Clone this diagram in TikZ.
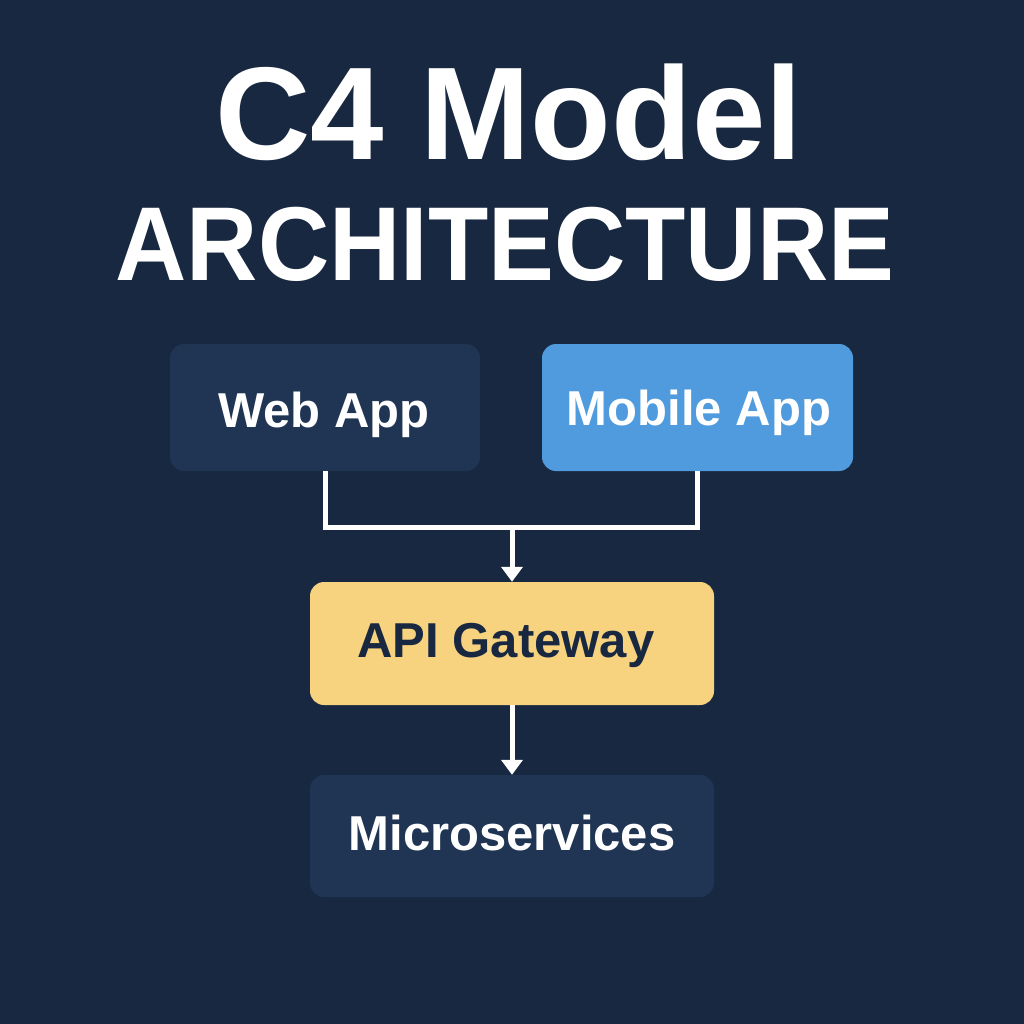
\documentclass[tikz,border=0pt]{standalone}
\usepackage{fontspec}
\setmainfont{Liberation Sans}
\usetikzlibrary{arrows.meta}
\definecolor{bg}{HTML}{182840}
\definecolor{boxdark}{HTML}{1F3553}
\definecolor{boxblue}{HTML}{4F9BDE}
\definecolor{boxyellow}{HTML}{F7D27F}
\tikzset{
  card/.style={rounded corners=14pt, inner sep=0pt},
  darkcard/.style={card, fill=boxdark},
  lbl/.style={anchor=base, inner sep=0pt, font=\fontsize{49}{49}\selectfont\bfseries},
  wire/.style={draw=white, line width=5pt},
  arrowwire/.style={wire, -{Triangle[width=21pt,length=15pt]}},
}
\begin{document}
\begin{tikzpicture}[x=1pt,y=-1pt]
\fill[bg] (0,0) rectangle (1024,1024);
\useasboundingbox (0,0) rectangle (1024,1024);
\node[anchor=base, inner sep=0pt, text=white, font=\fontsize{132}{132}\selectfont\bfseries] (t1) at (509,160) {C4 Model};
\node[anchor=base, inner sep=0pt, text=white, font=\fontsize{105}{105}\selectfont\bfseries] (t2) at (505,280) {\scalebox{0.94}[1]{ARCHITECTURE}};
\node[darkcard, minimum width=310pt, minimum height=127pt] (web) at (325,407.5) {};
\node[card, fill=boxblue, minimum width=311pt, minimum height=127pt] (mob) at (697.5,407.5) {};
\node[card, fill=boxyellow, minimum width=404pt, minimum height=123pt] (api) at (512,643.5) {};
\node[darkcard, minimum width=404pt, minimum height=122pt] (ms) at (512,836) {};
\node[lbl, text=white] (webl) at (324,427) {Web App};
\node[lbl, text=white] (mobl) at (699,425) {Mobile App};
\node[lbl, text=bg] (apil) at (506,657) {API Gateway};
\node[lbl, text=white] (msl) at (512,850) {Microservices};
\coordinate (j) at (512,527);
\draw[wire, line join=miter] (web.south) |- (j) -| (mob.south);
\draw[arrowwire] (j) -- (api.north);
\draw[arrowwire] (api.south) -- (ms.north);
\end{tikzpicture}
\end{document}
